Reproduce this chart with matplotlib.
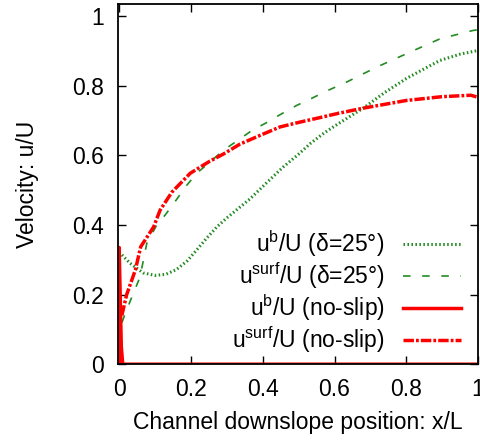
import numpy as np
import matplotlib.pyplot as plt

plt.rcParams['font.family'] = ['Liberation Sans', 'DejaVu Sans']
plt.rcParams['mathtext.fontset'] = 'custom'
plt.rcParams['mathtext.rm'] = 'Liberation Sans'
plt.rcParams['mathtext.it'] = 'Liberation Sans'

# basal velocity, slip case (delta = 25 deg)
x_ub_slip = [0.0, 0.03, 0.067, 0.1, 0.13, 0.16, 0.19, 0.216, 0.244, 0.272, 0.30, 0.332,
             0.365, 0.41, 0.457, 0.50, 0.532, 0.57, 0.61, 0.68, 0.74, 0.80, 0.85, 0.894,
             0.95, 0.997]
ub_slip = [0.322, 0.29, 0.262, 0.255, 0.258, 0.272, 0.297, 0.328, 0.362, 0.394, 0.42, 0.447,
           0.475, 0.52, 0.566, 0.603, 0.633, 0.663, 0.69, 0.735, 0.78, 0.82, 0.848, 0.872,
           0.89, 0.90]

# surface velocity, slip case
x_us_slip = [0.008, 0.017, 0.058, 0.077, 0.105, 0.128, 0.158, 0.187, 0.218, 0.253, 0.29,
             0.33, 0.37, 0.41, 0.453, 0.495, 0.54, 0.582, 0.634, 0.718, 0.80, 0.894, 0.986, 1.0]
us_slip = [0.12, 0.146, 0.25, 0.347, 0.40, 0.428, 0.47, 0.512, 0.55, 0.58, 0.614,
           0.642, 0.671, 0.693, 0.719, 0.743, 0.765, 0.786, 0.81, 0.853, 0.891, 0.934, 0.958, 0.96]

# basal velocity, no-slip case
x_ub_noslip = [0.0, 0.0, 0.006, 0.01, 1.0]
ub_noslip = [0.0, 0.335, 0.05, 0.0, 0.0]

# surface velocity, no-slip case
x_us_noslip = [0.0075, 0.021, 0.045, 0.060, 0.096, 0.114, 0.147, 0.198, 0.226, 0.253, 0.29,
               0.337, 0.393, 0.448, 0.504, 0.56, 0.61, 0.68, 0.80, 0.90, 0.98, 1.0]
us_noslip = [0.14, 0.20, 0.27, 0.337, 0.394, 0.442, 0.494, 0.548, 0.566, 0.583, 0.603,
             0.632, 0.657, 0.681, 0.695, 0.708, 0.72, 0.735, 0.757, 0.768, 0.772, 0.766]

green = '#228b22'
red = '#ff0000'
fs = 16.5

fig = plt.figure(figsize=(4.8, 4.42), dpi=100)
ax = fig.add_axes([0.246, 0.176, 0.75, 0.815])

ax.plot(x_ub_slip, ub_slip, color=green, lw=2.2, ls=(0, (0.5, 0.8)),
        label=r'u$^{\rm b}$/U (δ=25°)')
ax.plot(x_us_slip, us_slip, color=green, lw=1.2, ls=(0, (4.5, 7)),
        label=r'u$^{\rm surf}$/U (δ=25°)')
ax.plot(x_ub_noslip, ub_noslip, color=red, lw=2.5, ls='-',
        label=r'u$^{\rm b}$/U (no-slip)')
ax.plot(x_us_noslip, us_noslip, color=red, lw=2.5, ls=(0, (3, 0.6, 0.8, 0.6)),
        label=r'u$^{\rm surf}$/U (no-slip)')

ax.set_xlim(-0.003, 1.0)
ax.set_ylim(0, 1.034)
ax.set_xticks([0, 0.2, 0.4, 0.6, 0.8, 1.0])
ax.set_xticklabels(['0', '0.2', '0.4', '0.6', '0.8', '1'])
ax.set_yticks([0, 0.2, 0.4, 0.6, 0.8, 1.0])
ax.set_yticklabels(['0', '0.2', '0.4', '0.6', '0.8', '1'])
ax.tick_params(direction='in', length=6, width=1, top=True, right=True,
               labelsize=fs, pad=10)
for s in ax.spines.values():
    s.set_linewidth(1.3)

ax.set_xlabel('Channel downslope position: x/L', fontsize=fs, labelpad=7)
ax.set_ylabel('Velocity: u/U', fontsize=fs, labelpad=24)

ax.legend(loc='lower right', bbox_to_anchor=(0.985, -0.006), frameon=False,
          markerfirst=False, fontsize=fs, handlelength=2.55, handletextpad=0.8,
          labelspacing=0.05, borderpad=0)

fig.savefig('out.png', dpi=100)
